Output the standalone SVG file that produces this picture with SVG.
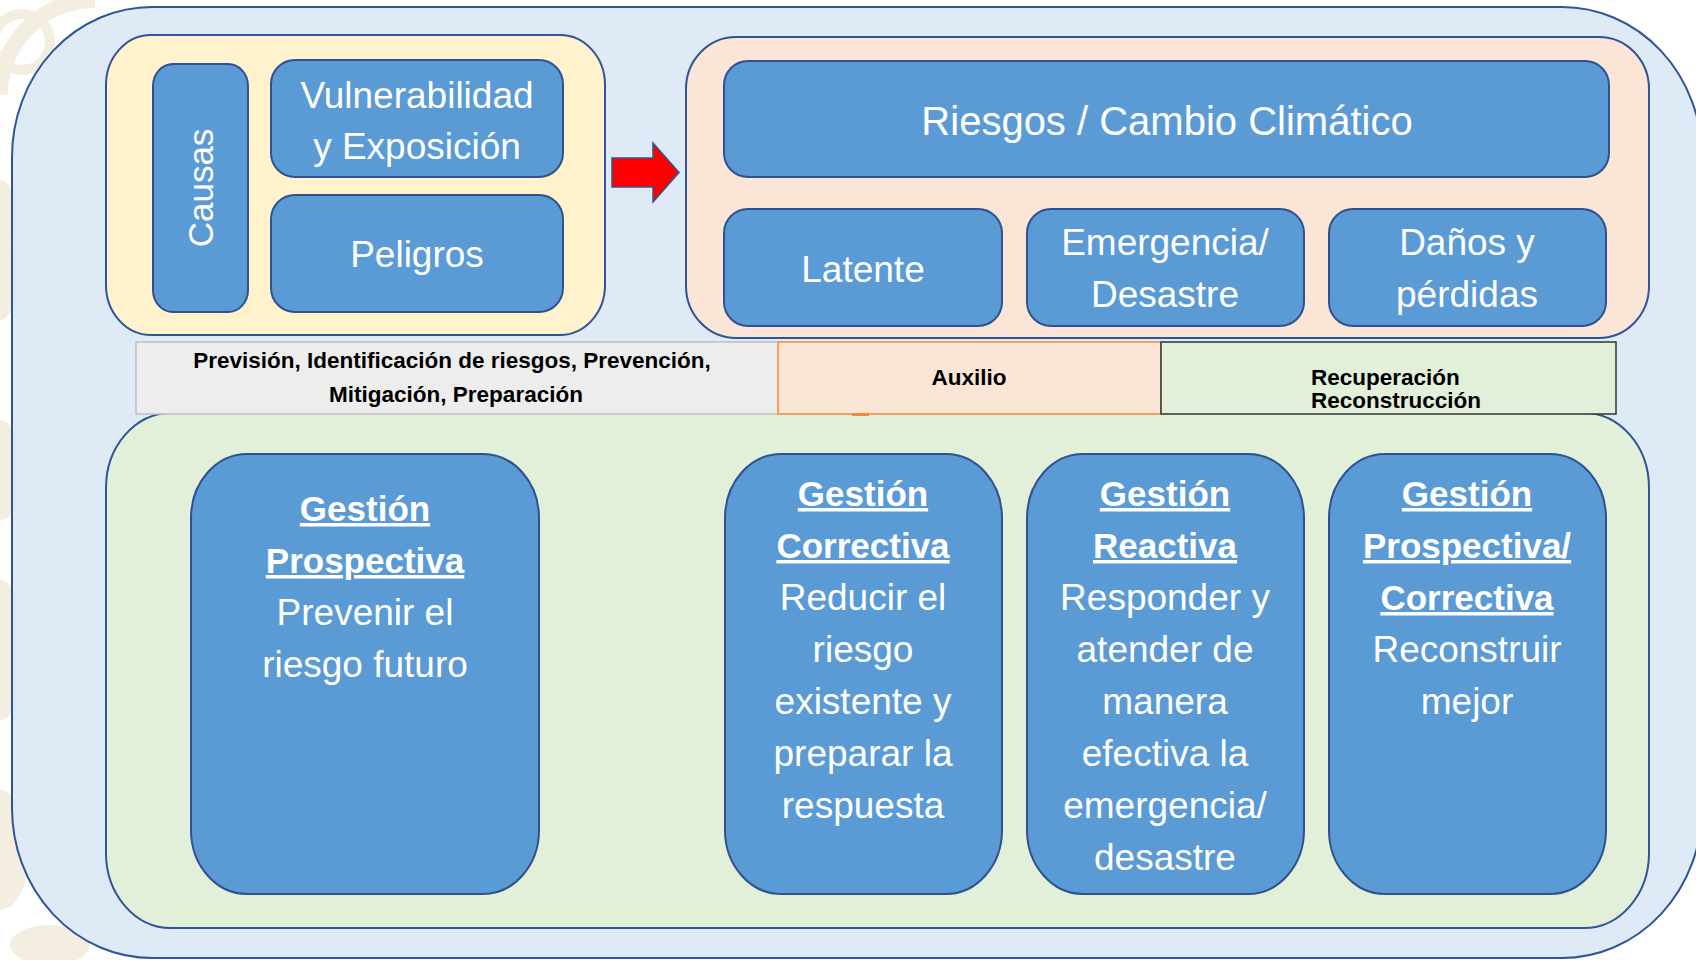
<svg xmlns="http://www.w3.org/2000/svg" width="1696" height="960" viewBox="0 0 1696 960">
<style>
text{font-family:"Liberation Sans",Arial,sans-serif;}
.w{fill:#ffffff;text-anchor:middle;}
.s{font-size:37px;}
.big{font-size:40px;}
.hd{font-size:35px;font-weight:bold;text-decoration:underline;}
.bd{font-size:37px;}
.band{font-size:22.5px;font-weight:bold;fill:#000000;}
.box{fill:#5b9bd5;stroke:#2f528f;stroke-width:2;}
.cont{stroke:#2f5597;stroke-width:2;}
.deco{fill:none;stroke:#f4eee1;}
.decof{fill:#f4eee1;}
</style>
<rect x="0" y="0" width="1696" height="960" fill="#ffffff"/>
<g id="background-decoration">
<path class="deco" d="M0,95 A95,95 0 0 1 95,0" stroke-width="16"/>
<circle class="deco" cx="22" cy="42" r="28" stroke-width="10"/>
<ellipse class="decof" cx="0" cy="250" rx="22" ry="70"/>
<ellipse class="decof" cx="0" cy="470" rx="22" ry="50"/>
<ellipse class="decof" cx="0" cy="650" rx="25" ry="70"/>
<ellipse class="decof" cx="0" cy="850" rx="30" ry="60"/>
<ellipse class="decof" cx="50" cy="945" rx="40" ry="20"/>
</g>
<g id="outer">
<rect class="cont" x="12" y="7" width="1690" height="951" rx="140" ry="150" fill="#deebf7"/>
</g>
<g id="causes-panel">
<rect class="cont" x="106" y="35" width="499" height="300" rx="45" ry="50" fill="#fff2cc"/>
</g>
<g id="risk-panel">
<rect class="cont" x="686" y="37" width="963" height="301" rx="50" ry="52" fill="#fbe5d6"/>
</g>
<g id="management-panel">
<rect class="cont" x="106" y="413" width="1543" height="515" rx="65" ry="75" fill="#e2f0d9"/>
</g>
<g id="band-prevision">
<rect x="136" y="342" width="642" height="72" fill="#ededed" stroke="#bfbfbf" stroke-width="1.5"/>
<text class="band" x="452" y="368" text-anchor="middle">Previsión, Identificación de riesgos, Prevención,</text>
<text class="band" x="456" y="402" text-anchor="middle">Mitigación, Preparación</text>
</g>
<g id="band-auxilio">
<rect x="778" y="342" width="383" height="72" fill="#fbe5d6" stroke="#f4a15d" stroke-width="2"/>
<rect x="852" y="413" width="17" height="3" fill="#f08a3c"/>
<text class="band" x="969" y="385" text-anchor="middle">Auxilio</text>
</g>
<g id="band-recuperacion">
<rect x="1161" y="342" width="455" height="72" fill="#e2f0d9" stroke="#333333" stroke-width="1.5"/>
<text class="band" x="1311" y="385">Recuperación</text>
<text class="band" x="1311" y="408">Reconstrucción</text>
</g>
<g id="causas">
<rect class="box" x="153" y="64" width="95" height="248" rx="20" ry="22"/>
<text class="w" font-size="35" transform="translate(213,188) rotate(-90)">Causas</text>
</g>
<g id="vulnerabilidad">
<rect class="box" x="271" y="60" width="292" height="117" rx="24" ry="24"/>
<text class="w s" x="417" y="108">Vulnerabilidad</text>
<text class="w s" x="417" y="159">y Exposición</text>
</g>
<g id="peligros">
<rect class="box" x="271" y="195" width="292" height="117" rx="24" ry="24"/>
<text class="w s" x="417" y="267">Peligros</text>
</g>
<g id="connectors">
<polygon points="612,158 653,158 653,143 679,172.5 653,202 653,187 612,187" fill="#ff0000" stroke="#2f5597" stroke-width="1.5"/>
</g>
<g id="riesgos">
<rect class="box" x="724" y="61" width="885" height="116" rx="24" ry="24"/>
<text class="w big" x="1167" y="135">Riesgos / Cambio Climático</text>
</g>
<g id="latente">
<rect class="box" x="724" y="209" width="278" height="117" rx="24" ry="24"/>
<text class="w s" x="863" y="282">Latente</text>
</g>
<g id="emergencia">
<rect class="box" x="1027" y="209" width="277" height="117" rx="24" ry="24"/>
<text class="w s" x="1165" y="255">Emergencia/</text>
<text class="w s" x="1165" y="307">Desastre</text>
</g>
<g id="danos">
<rect class="box" x="1329" y="209" width="277" height="117" rx="24" ry="24"/>
<text class="w s" x="1467" y="255">Daños y</text>
<text class="w s" x="1467" y="307">pérdidas</text>
</g>
<g id="gestion-prospectiva">
<rect class="box" x="191" y="454" width="348" height="440" rx="56" ry="64"/>
<text class="w hd" x="365" y="521">Gestión</text>
<text class="w hd" x="365" y="573">Prospectiva</text>
<text class="w bd" x="365" y="625">Prevenir el</text>
<text class="w bd" x="365" y="677">riesgo futuro</text>
</g>
<g id="gestion-correctiva">
<rect class="box" x="725" y="454" width="277" height="440" rx="56" ry="64"/>
<text class="w hd" x="863" y="506">Gestión</text>
<text class="w hd" x="863" y="558">Correctiva</text>
<text class="w bd" x="863" y="610">Reducir el</text>
<text class="w bd" x="863" y="662">riesgo</text>
<text class="w bd" x="863" y="714">existente y</text>
<text class="w bd" x="863" y="766">preparar la</text>
<text class="w bd" x="863" y="818">respuesta</text>
</g>
<g id="gestion-reactiva">
<rect class="box" x="1027" y="454" width="277" height="440" rx="56" ry="64"/>
<text class="w hd" x="1165" y="506">Gestión</text>
<text class="w hd" x="1165" y="558">Reactiva</text>
<text class="w bd" x="1165" y="610">Responder y</text>
<text class="w bd" x="1165" y="662">atender de</text>
<text class="w bd" x="1165" y="714">manera</text>
<text class="w bd" x="1165" y="766">efectiva la</text>
<text class="w bd" x="1165" y="818">emergencia/</text>
<text class="w bd" x="1165" y="870">desastre</text>
</g>
<g id="gestion-prospectiva-correctiva">
<rect class="box" x="1329" y="454" width="277" height="440" rx="56" ry="64"/>
<text class="w hd" x="1467" y="506">Gestión</text>
<text class="w hd" x="1467" y="558">Prospectiva/</text>
<text class="w hd" x="1467" y="610">Correctiva</text>
<text class="w bd" x="1467" y="662">Reconstruir</text>
<text class="w bd" x="1467" y="714">mejor</text>
</g>
</svg>
